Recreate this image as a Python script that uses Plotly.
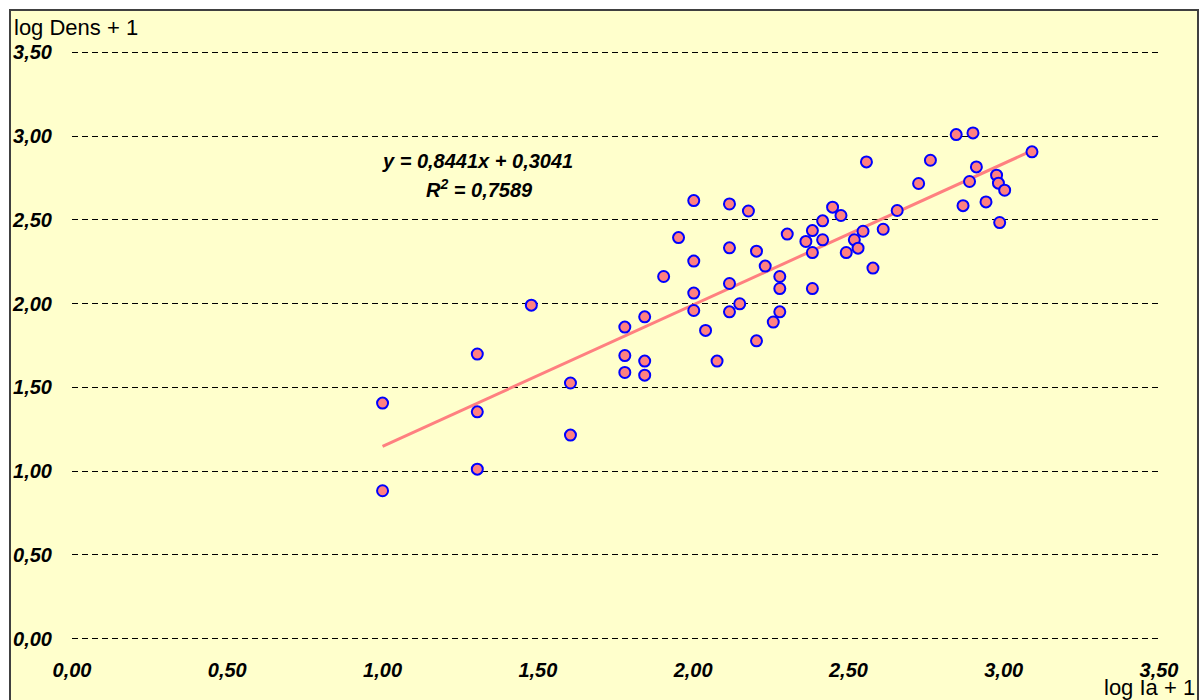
import plotly.graph_objects as go

# ---- data ----
log_ia = [1.00, 1.00, 1.305, 1.305, 1.305, 1.479, 1.605, 1.605,
          1.780, 1.780, 1.780, 1.844, 1.844, 1.844, 1.905, 1.953,
          2.002, 2.002, 2.002, 2.002, 2.040, 2.077,
          2.117, 2.117, 2.117, 2.117, 2.150, 2.178, 2.204, 2.204,
          2.232, 2.258, 2.279, 2.279, 2.279, 2.303, 2.363,
          2.384, 2.384, 2.384, 2.417, 2.417, 2.449, 2.476, 2.493,
          2.519, 2.531, 2.547, 2.558, 2.579, 2.612, 2.657, 2.726,
          2.764, 2.847, 2.869, 2.890, 2.901, 2.912, 2.943, 2.977,
          2.983, 2.987, 3.003, 3.091]
log_dens = [1.406, 0.883, 1.699, 1.354, 1.012, 1.991, 1.526, 1.215,
            1.860, 1.690, 1.589, 1.921, 1.657, 1.573, 2.162, 2.394,
            2.615, 2.254, 2.063, 1.959, 1.840, 1.657,
            2.595, 2.333, 2.120, 1.951, 1.999, 2.553, 2.313, 1.778,
            2.224, 1.890, 2.162, 2.090, 1.951, 2.415, 2.371,
            2.436, 2.305, 2.090, 2.494, 2.381, 2.576, 2.526, 2.305,
            2.381, 2.331, 2.432, 2.846, 2.212, 2.444, 2.556, 2.717,
            2.856, 3.009, 2.585, 2.729, 3.019, 2.816, 2.607, 2.767,
            2.719, 2.484, 2.677, 2.906]

slope = 0.8441
intercept = 0.3041
r_squared = 0.7589

tick_vals = [0.0, 0.5, 1.0, 1.5, 2.0, 2.5, 3.0, 3.5]
tick_text = ["0,00", "0,50", "1,00", "1,50", "2,00", "2,50", "3,00", "3,50"]

x_title = "log Ia + 1"
y_title = "log Dens + 1"

# ---- figure ----
trend_x = [min(log_ia), max(log_ia)]
trend_y = [slope * v + intercept for v in trend_x]

fig = go.Figure()
fig.add_trace(go.Scatter(
    x=trend_x, y=trend_y, mode="lines",
    line=dict(color="#FF8080", width=3),
    hoverinfo="skip", showlegend=False))
fig.add_trace(go.Scatter(
    x=log_ia, y=log_dens, mode="markers",
    marker=dict(size=11, color="#FF8080", line=dict(color="#0000FF", width=2)),
    showlegend=False))

tick_font = dict(family="Arial, Liberation Sans, sans-serif", size=20,
                 color="black", weight="bold", style="italic")

# padding so the 0,00 and 3,50 grid lines are drawn inside the plot area
pad = 0.02
fig.update_xaxes(range=[0, 3.5], tickvals=tick_vals, ticktext=tick_text,
                 showgrid=False, zeroline=False, showline=False, ticks="",
                 tickfont=tick_font, ticklabelstandoff=14, fixedrange=True)
fig.update_yaxes(range=[-pad, 3.5 + pad], tickvals=tick_vals, ticktext=tick_text,
                 showgrid=True, gridcolor="#000000", gridwidth=1,
                 griddash="6px,4px", zeroline=False, showline=False, ticks="",
                 tickfont=tick_font, ticklabelstandoff=19, fixedrange=True)

eq_font = dict(family="Arial, Liberation Sans, sans-serif", size=20,
               color="black", weight="bold", style="italic")
title_font = dict(family="Arial, Liberation Sans, sans-serif", size=22, color="black")

# plot area: x 72..1159, y 49..642 px (0..3.5 maps to 52..639)
L, R, T, B = 72, 1159, 49, 642
W, H = R - L, B - T

def px_x(p):
    return (p - L) / W

def px_y(p):
    return (B - p) / H

annotations = [
    dict(text="y = " + f"{slope:.4f}".replace(".", ",") + "x + " + f"{intercept:.4f}".replace(".", ","),
         x=px_x(477), y=px_y(161), xref="paper", yref="paper",
         showarrow=False, font=eq_font, xanchor="center", yanchor="middle"),
    dict(text="R<sup>2</sup> = " + f"{r_squared:.4f}".replace(".", ","),
         x=px_x(479), y=px_y(189), xref="paper", yref="paper",
         showarrow=False, font=eq_font, xanchor="center", yanchor="middle"),
    dict(text=y_title, x=px_x(12), y=px_y(28), xref="paper", yref="paper",
         showarrow=False, font=title_font, xanchor="left", yanchor="middle"),
    dict(text=x_title, x=px_x(1197), y=px_y(687), xref="paper", yref="paper",
         showarrow=False, font=title_font, xanchor="right", yanchor="middle"),
]

shapes = [
    dict(type="rect", xref="paper", yref="paper", layer="below",
         x0=px_x(10), x1=px_x(1198), y0=px_y(10), y1=px_y(720),
         fillcolor="#FFFFCC", line=dict(color="#404040", width=2)),
]

fig.update_layout(
    width=1200, height=700,
    margin=dict(l=L, r=1200 - R, t=T, b=700 - B),
    paper_bgcolor="white", plot_bgcolor="rgba(0,0,0,0)",
    annotations=annotations, shapes=shapes,
    hovermode="closest",
)

fig.write_html("out.html")
